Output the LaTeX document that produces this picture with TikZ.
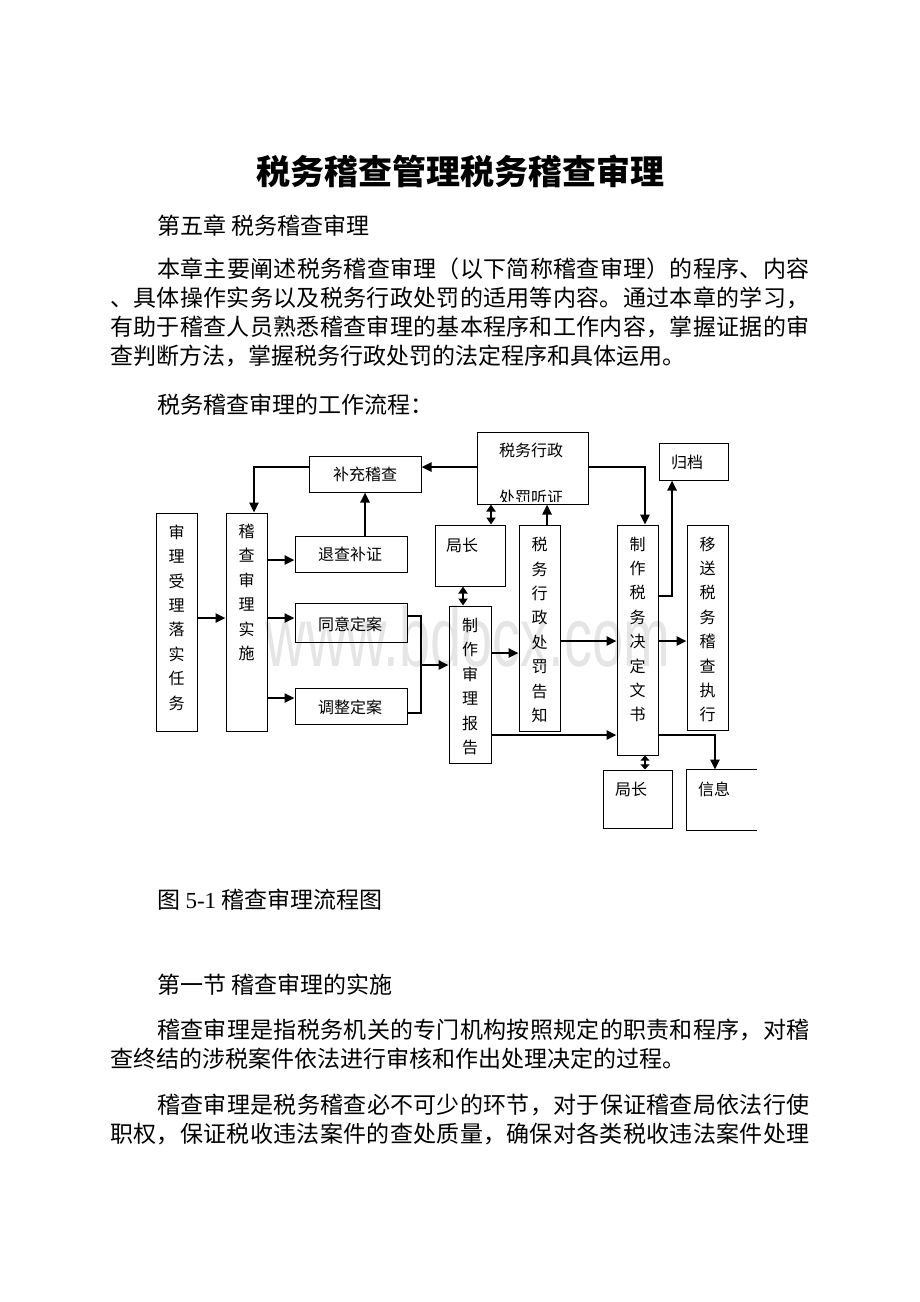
\documentclass[tikz,border=0pt]{standalone}
\usepackage{fontspec}
\setmainfont{Noto Sans CJK SC}
\newfontfamily\latinserif{Liberation Serif}
\newfontfamily\marksans{Liberation Sans}
\usetikzlibrary{arrows.meta,fit}

\makeatletter
\newcommand\jline[2]{\hbox to #1{\@tfor\jl@c:=#2\do{\jl@c\hfil}\unskip}}
\makeatother

\begin{document}
\begin{tikzpicture}[x=0.5pt, y=-0.5pt,
  flow box/.style={draw, line width=0.5pt, inner sep=0pt},
  box text/.style={font=\fontsize{8pt}{12.2pt}\selectfont, inner sep=0pt, align=center},
  body text/.style={font=\fontsize{11.5pt}{14pt}\selectfont, inner sep=0pt, anchor=west},
  flow/.style={-{Triangle[length=5pt,width=4.5pt]}, line width=1.2pt},
  both flow/.style={{Triangle[length=3.5pt,width=4.5pt]}-{Triangle[length=3.5pt,width=4.5pt]}, line width=1.2pt},
  short both flow/.style={{Triangle[length=2.6pt,width=4.5pt]}-{Triangle[length=2.6pt,width=4.5pt]}, line width=1.2pt},
  plain flow/.style={line width=1.2pt}]

\useasboundingbox (0,0) rectangle (920,1302);

% page text
\node[font=\bfseries\fontsize{17pt}{20pt}\selectfont, inner sep=0pt] (title) at (460,171) {税务稽查管理税务稽查审理};
\node[body text] (chapter) at (157,226) {第五章 税务稽查审理};
\node[body text] (intro1) at (157,269) {\jline{326pt}{本章主要阐述税务稽查审理（以下简称稽查审理）的程序、内容}};
\node[body text] (intro2) at (110,298) {\jline{349.5pt}{、具体操作实务以及税务行政处罚的适用等内容。通过本章的学习，}};
\node[body text] (intro3) at (110,327) {\jline{349.5pt}{有助于稽查人员熟悉稽查审理的基本程序和工作内容，掌握证据的审}};
\node[body text] (intro4) at (110,356) {查判断方法，掌握税务行政处罚的法定程序和具体运用。};
\node[body text] (lead) at (157,405) {税务稽查审理的工作流程：};

\node[body text] (caption) at (157,900) {图 {\latinserif 5-1} 稽查审理流程图};
\node[body text] (section) at (157,985) {第一节 稽查审理的实施};
\node[body text] (def1) at (157,1030) {\jline{326pt}{稽查审理是指税务机关的专门机构按照规定的职责和程序，对稽}};
\node[body text] (def2) at (110,1059) {查终结的涉税案件依法进行审核和作出处理决定的过程。};
\node[body text] (role1) at (157,1105) {\jline{326pt}{稽查审理是税务稽查必不可少的环节，对于保证稽查局依法行使}};
\node[body text] (role2) at (110,1134) {\jline{349.5pt}{职权，保证税收违法案件的查处质量，确保对各类税收违法案件处理}};

% watermark
\node[font=\marksans\fontsize{28pt}{30pt}\selectfont, text=black!10, inner sep=0pt] (mark) at (468,636) {\scalebox{1}[1.5]{www.bdocx.com}};

% boxes
\node[flow box, fit={(156,513) (197,731)}] (renwu) {};
\node[box text] (renwu-t) at (176.5,617.5) {审\\理\\受\\理\\落\\实\\任\\务};
\node[flow box, fit={(226,513) (267,731)}] (shishi) {};
\node[box text] (shishi-t) at (246.5,592.5) {稽\\查\\审\\理\\实\\施};
\node[flow box, fit={(309,456) (421,492)}] (buchong) {};
\node[box text] (buchong-t) at (365,474) {补充稽查};
\node[flow box, fit={(295,536) (407,572)}] (tuicha) {};
\node[box text] (tuicha-t) at (350,554) {退查补证};
\node[flow box, fit={(295,603) (407,642)}] (tongyi) {};
\node[box text] (tongyi-t) at (350,624) {同意定案};
\node[flow box, fit={(295,688) (407,724)}] (tiaozheng) {};
\node[box text] (tiaozheng-t) at (350,707) {调整定案};
\node[flow box, fit={(477,432) (588,504)}] (tingzheng) {};
\node[box text] (tingzheng-t) at (531,450) {税务行政};
\begin{scope}
  \clip (tingzheng.north west) rectangle ([yshift=1.5pt]tingzheng.south east);
  \node[box text] (tingzheng-t2) at (531,497) {处罚听证};
\end{scope}
\node[flow box, fit={(435,525) (505,586)}] (juzhang) {};
\node[box text] (juzhang-t) at (462,545) {局长};
\node[flow box, fit={(519,525) (560,731)}] (gaozhi) {};
\node[box text] (gaozhi-t) at (539.5,630) {税\\务\\行\\政\\处\\罚\\告\\知};
\node[flow box, fit={(449,606) (491,763)}] (baogao) {};
\node[box text] (baogao-t) at (470,686.5) {制\\作\\审\\理\\报\\告};
\node[flow box, fit={(617,525) (658,755)}] (wenshu) {};
\node[box text] (wenshu-t) at (637.5,629.5) {制\\作\\税\\务\\决\\定\\文\\书};
\node[flow box, fit={(659,443) (728,480)}] (guidang) {};
\node[box text] (guidang-t) at (687,462) {归档};
\node[flow box, fit={(687,525) (728,730)}] (zhixing) {};
\node[box text] (zhixing-t) at (707.5,629.5) {移\\送\\税\\务\\稽\\查\\执\\行};
\node[flow box, fit={(603,770) (672,828)}] (juzhang2) {};
\node[box text] (juzhang2-t) at (631,789) {局长};
\node[inner sep=0pt, fit={(687,770) (757,830)}] (xinxi) {};
\draw[line width=0.5pt] (xinxi.north east) -- (xinxi.north west) -- (xinxi.south west) -- (xinxi.south east);
\node[box text] (xinxi-t) at (714,789) {信息};

% connectors
\draw[flow] (renwu.east |- 0,618) -- (shishi.west |- 0,618);
\draw[flow] (shishi.east |- 0,560) -- (tuicha.west |- 0,560);
\draw[flow] (shishi.east |- 0,618) -- (tongyi.west |- 0,618);
\draw[flow] (shishi.east |- 0,698) -- (tiaozheng.west |- 0,698);
\draw[flow] (tuicha.north -| 365,0) -- (buchong.south -| 365,0);
\draw[flow] (buchong.west |- 0,467) -| (shishi.north -| 254,0);
\draw[flow] (tingzheng.west |- 0,467) -- (buchong.east |- 0,467);
\draw[plain flow] (tongyi.east |- 0,616) -| (421,713) -- (tiaozheng.east |- 0,713);
\coordinate (merge) at (421,665);
\draw[flow] (merge) -- (baogao.west |- merge);
\draw[both flow] (juzhang.north -| 491,0) -- (tingzheng.south -| 491,0);
\draw[both flow] (juzhang.south -| 463,0) -- (baogao.north -| 463,0);
\draw[flow] (gaozhi.north -| 547,0) -- (tingzheng.south -| 547,0);
\draw[flow] (baogao.east |- 0,653) -- (gaozhi.west |- 0,653);
\draw[flow] (baogao.east |- 0,735) -- (wenshu.west |- 0,735);
\draw[flow] (gaozhi.east |- 0,641) -- (wenshu.west |- 0,641);
\draw[flow] (wenshu.east |- 0,641) -- (zhixing.west |- 0,641);
\draw[flow] (tingzheng.east |- 0,467) -| (wenshu.north -| 645,0);
\draw[flow] (wenshu.east |- 0,596) -| (guidang.south -| 672,0);
\draw[flow] (wenshu.east |- 0,735) -| (xinxi.north -| 715,0);
\draw[short both flow] (wenshu.south -| 645,0) -- (juzhang2.north -| 645,0);

\end{tikzpicture}
\end{document}
